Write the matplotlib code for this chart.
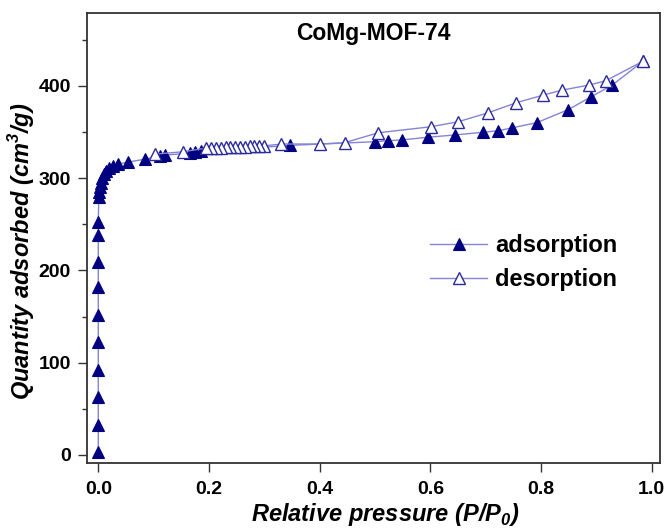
"""N2 isotherm of CoMg-MOF-74 — adsorption / desorption branches."""

import matplotlib

matplotlib.use("Agg")
import matplotlib.pyplot as plt  # noqa: E402
from matplotlib.ticker import MultipleLocator  # noqa: E402

plt.rcParams["font.family"] = ["Liberation Sans", "DejaVu Sans"]

# adsorption branch (P/P0, cm3/g)
ads_p = [0.0, 0.0, 0.0, 0.0, 0.0, 0.0, 0.0, 0.0, 0.0, 0.0,
         0.001, 0.002, 0.003, 0.005, 0.007, 0.010, 0.014, 0.020, 0.027, 0.035,
         0.054, 0.084, 0.111, 0.120, 0.165, 0.175, 0.186,
         0.346, 0.500, 0.524, 0.548, 0.595, 0.644, 0.695, 0.723, 0.747,
         0.792, 0.848, 0.891, 0.928, 0.985]
ads_q = [3.6, 32.5, 62.5, 92.0, 121.9, 151.7, 182.3, 209.4, 238.4, 252.8,
         280.0, 285.0, 290.0, 295.0, 300.0, 304.0, 308.0, 311.0, 313.0, 315.0,
         317.5, 320.5, 324.0, 325.0, 327.0, 327.8, 329.0,
         335.5, 339.5, 340.6, 341.4, 344.3, 346.8, 349.7, 351.4, 354.4,
         360.1, 373.9, 388.3, 400.6, 426.9]

# desorption branch (high -> low pressure)
des_p = [0.985, 0.917, 0.887, 0.838, 0.804, 0.755, 0.705, 0.650, 0.601,
         0.506, 0.445, 0.400, 0.331,
         0.300, 0.291, 0.282, 0.274, 0.265, 0.256, 0.247, 0.238, 0.230,
         0.221, 0.212, 0.203, 0.195,
         0.153, 0.102]
des_q = [426.9, 405.6, 400.9, 395.4, 390.0, 381.7, 370.9, 361.1, 355.7,
         349.2, 338.4, 337.0, 337.0,
         335.0, 334.8, 334.6, 334.4, 334.2, 334.0, 333.8, 333.6, 333.4,
         333.2, 333.0, 332.8, 332.6,
         328.6, 326.0]

LINE = "#8484d6"
NAVY = "#000080"

fig = plt.figure(figsize=(6.67, 5.32), dpi=100)
ax = fig.add_axes([0.1304, 0.1297, 0.8591, 0.8459])

ax.plot(ads_p, ads_q, color=LINE, lw=1.0, marker="^", ms=9,
        mfc=NAVY, mec=NAVY, mew=0.8, label="adsorption", zorder=3)
ax.plot(des_p, des_q, color=LINE, lw=1.0, marker="^", ms=9,
        mfc="white", mec="#2a2a9a", mew=1.0, label="desorption", zorder=4)

ax.set_xlim(-0.0204, 1.015)
ax.set_ylim(-8.7, 479)
ax.xaxis.set_major_locator(MultipleLocator(0.2))
ax.yaxis.set_major_locator(MultipleLocator(100))
ax.yaxis.set_minor_locator(MultipleLocator(50))
ax.xaxis.set_major_formatter(plt.FuncFormatter(lambda v, _: f"{v:.1f}"))

for s in ax.spines.values():
    s.set_color("#333333")
    s.set_linewidth(1.3)
ax.tick_params(which="major", direction="out", length=6.5, width=1.0,
               color="#333333", labelsize=14)
ax.tick_params(axis="x", which="major", pad=6.5)
ax.tick_params(axis="y", which="major", pad=5)
ax.tick_params(which="minor", direction="out", length=3.6, width=1.0,
               color="#333333")
for lab in (*ax.get_xticklabels(), *ax.get_yticklabels()):
    lab.set_fontweight("bold")

ax.set_xlabel("Relative pressure (P/P$_\\mathregular{0}$)", fontsize=17,
              fontweight="bold", fontstyle="italic", labelpad=2)
ax.set_ylabel("Quantity adsorbed (cm$^\\mathregular{3}$/g)", fontsize=17,
              fontweight="bold", fontstyle="italic", labelpad=1)
ax.xaxis.label.set_x(0.52)
ax.yaxis.label.set_y(0.47)

ax.text(0.5, 0.955, "CoMg-MOF-74", transform=ax.transAxes, ha="center",
        va="center", fontsize=16.5, fontweight="bold")

ax.legend(loc="center left", bbox_to_anchor=(0.599, 0.445), frameon=False,
          borderpad=0, borderaxespad=0, handlelength=2.4, handletextpad=0.35,
          labelspacing=0.45, prop={"size": 17, "weight": "bold"})

fig.savefig("out.png", dpi=100, facecolor="white")
